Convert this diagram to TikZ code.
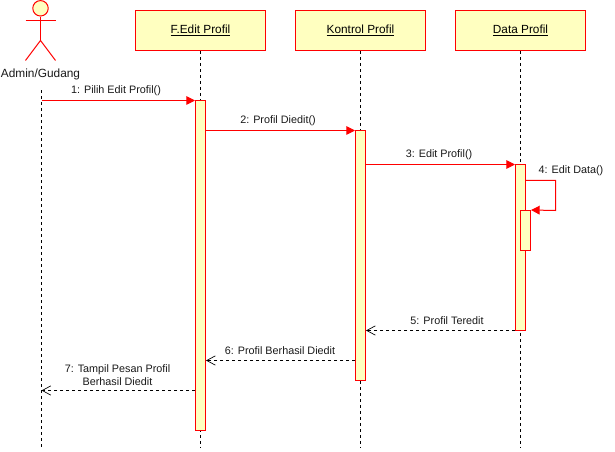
\documentclass[tikz,border=0pt]{standalone}
\usepackage{fontspec}
\setmainfont{Liberation Sans}
\usetikzlibrary{arrows.meta}
\definecolor{boxfill}{HTML}{FFFFC0}
\tikzset{
  objbox/.style={draw=red,fill=boxfill,line width=.75pt,minimum width=97.5pt,minimum height=30pt,inner sep=0pt,font=\fontsize{8.85}{10}\selectfont},
  activ/.style={draw=red,fill=boxfill,line width=.75pt,minimum width=7.5pt,inner sep=0pt},
  lifeline/.style={draw=black,line width=.75pt,dash pattern=on 2.25pt off 2.25pt},
  actorline/.style={draw=red,line width=.75pt},
  msg/.style={draw=red,line width=.75pt,-{Triangle[length=6.5pt,width=6.5pt,fill=red]}},
  ret/.style={draw=black,line width=.65pt,dash pattern=on 2.25pt off 2.25pt,-{Straight Barb[length=6.5pt,width=7pt,line width=.5pt]}},
  lbl/.style={inner sep=0pt,align=center,font=\fontsize{8.1}{10.2}\selectfont,text=black!90},
}
\begin{document}
\begin{tikzpicture}[x=.75pt,y=-.75pt]
\useasboundingbox[fill=white] (-.5,-.5) rectangle (614.5,451.5);
% objects
\node[objbox] (o1) at (200,30) {\underline{F.Edit Profil}};
\node[objbox] (o2) at (360,30) {\underline{Kontrol Profil}};
\node[objbox] (o3) at (520,30) {\underline{Data Profil}};
% actor
\node[circle,draw=red,fill=boxfill,line width=.75pt,minimum size=11.6pt,inner sep=0pt] (head) at (40,7.8) {};
\coordinate (armL) at (25,20);
\coordinate (armR) at (55,20);
\coordinate (hip) at (40,40);
\coordinate (legL) at (25,60);
\coordinate (legR) at (55,60);
\draw[actorline] (head.south) -- (hip);
\draw[actorline] (armL) -- (armR);
\draw[actorline] (legL) -- (hip) -- (legR);
\node[inner sep=0pt,font=\fontsize{8.9}{10}\selectfont,text=black!90] (actor) at (40,73.5) {Admin/Gudang};
% lifeline ends
\coordinate (l0t) at (41,90);
\coordinate (l0b) at (41,447);
\coordinate (l1b) at (200,447);
\coordinate (l2b) at (360,447);
\coordinate (l3b) at (520,447);
\draw[lifeline] (l0t) -- (l0b);
\draw[lifeline] (o1.south) -- (l1b);
\draw[lifeline] (o2.south) -- (l2b);
\draw[lifeline] (o3.south) -- (l3b);
% activations
\node[activ,minimum height=247.5pt] (a1) at (200,265) {};
\node[activ,minimum height=187.5pt] (a2) at (360,255) {};
\node[activ,minimum height=124.5pt] (a3) at (520,247) {};
\node[activ,minimum height=30pt] (a4) at (525,230) {};
% message levels
\coordinate (m1) at (0,100);
\coordinate (m2) at (0,130);
\coordinate (m3) at (0,164);
\coordinate (m4a) at (0,180);
\coordinate (m4b) at (555,180);
\coordinate (m4c) at (555,210);
\coordinate (m5) at (0,330);
\coordinate (m6) at (0,360);
\coordinate (m7) at (0,390);
% messages
\draw[msg] (l0t |- m1) -- (a1.west |- m1);
\draw[msg] (a1.east |- m2) -- (a2.west |- m2);
\draw[msg] (a2.east |- m3) -- (a3.west |- m3);
\draw[msg] (a3.east |- m4a) -- (m4b) -- (m4c) -- (a4.north east);
\draw[ret] (a3.west |- m5) -- (a2.east |- m5);
\draw[ret] (a2.west |- m6) -- (a1.east |- m6);
\draw[ret] (a1.west |- m7) -- (l0t |- m7);
% labels
\node[lbl] (t1) at (115.5,90.5) {1: Pilih Edit Profil()};
\node[lbl] (t2) at (277.5,120.5) {2: Profil Diedit()};
\node[lbl] (t3) at (438.5,154.5) {3: Edit Profil()};
\node[lbl] (t4) at (570.5,170) {4: Edit Data()};
\node[lbl] (t5) at (446.5,320.5) {5: Profil Teredit};
\node[lbl] (t6) at (279.5,350.5) {6: Profil Berhasil Diedit};
\node[lbl] (t7) at (117,374.5) {7: Tampil Pesan Profil\\Berhasil Diedit};
\end{tikzpicture}
\end{document}
